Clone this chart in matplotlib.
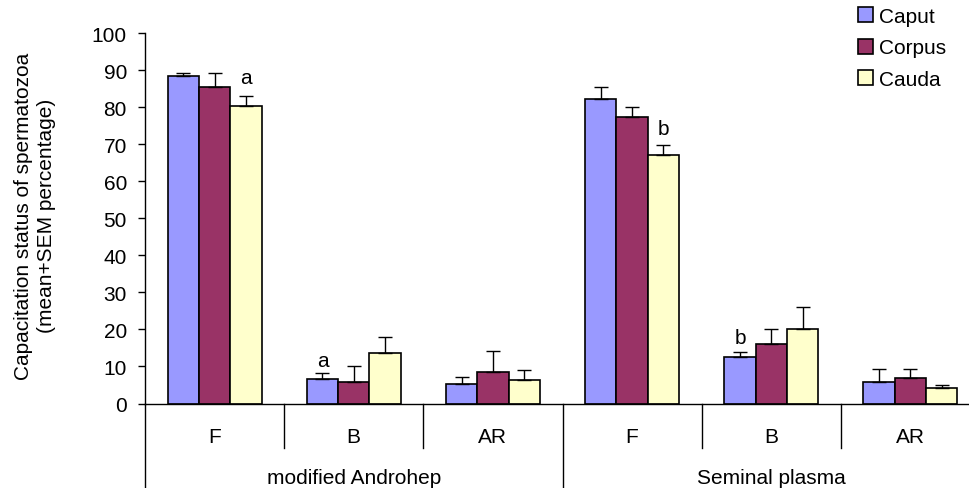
import numpy as np
import matplotlib
matplotlib.use("Agg")
import matplotlib.pyplot as plt
import matplotlib.transforms as mtransforms

plt.rcParams['font.family'] = ['Liberation Sans', 'DejaVu Sans']

# categories
stages = ["F", "B", "AR", "F", "B", "AR"]
media = ["modified Androhep", "Seminal plasma"]
series = ["Caput", "Corpus", "Cauda"]

# means (percentage) and SEM
caput = [88.5, 6.6, 5.2, 82.2, 12.5, 5.7]
corpus = [85.5, 5.9, 8.5, 77.2, 16.1, 7.0]
cauda = [80.4, 13.7, 6.4, 67.0, 20.1, 4.1]
caput_sem = [0.7, 1.6, 1.9, 3.3, 1.4, 3.5]
corpus_sem = [3.7, 4.1, 5.6, 2.9, 4.0, 2.2]
cauda_sem = [2.7, 4.3, 2.7, 2.9, 5.9, 0.8]

# significance letters: (category index, series index, label, y)
letters = [(0, 2, "a", 88.0), (1, 0, "a", 11.7), (3, 2, "b", 74.1), (4, 0, "b", 17.7)]

colors = ["#9999FF", "#993366", "#FFFFCC"]
FS = 15

fig = plt.figure(figsize=(9.69, 4.89), dpi=100)
ax = fig.add_axes([145/969, (489-404.5)/489, (980-145)/969, 370.5/489])

x = np.arange(len(stages))
w = 0.225
means = [caput, corpus, cauda]
sems = [caput_sem, corpus_sem, cauda_sem]
for i, (m, s) in enumerate(zip(means, sems)):
    xs = x + (i - 1) * w
    ax.bar(xs, m, w, color=colors[i], edgecolor="black", linewidth=1.2,
           label=series[i], zorder=2)
    ax.errorbar(xs, m, yerr=[np.zeros(len(m)), s], fmt="none", ecolor="black",
                elinewidth=1, capsize=5, capthick=1, zorder=3)

for ci, si, lab, yv in letters:
    ax.text(x[ci] + (si - 1) * w, yv, lab, ha="center", va="center", fontsize=FS)

ax.set_xlim(-0.5, 5.5)
ax.set_ylim(0, 100)
ax.set_yticks(np.arange(0, 101, 10))
ax.tick_params(axis="y", labelsize=FS, length=5, width=1, pad=8)
ax.set_xticks([])
for sp in ["top", "right"]:
    ax.spines[sp].set_visible(False)
ax.spines["left"].set_linewidth(1)
ax.spines["bottom"].set_linewidth(1)

# multi-level category axis
trans = mtransforms.blended_transform_factory(ax.transData, ax.transAxes)
h_px = 370.5
for xv in [0.5, 1.5, 3.5, 4.5]:
    ax.plot([xv, xv], [0, -44/h_px], color="black", lw=1, transform=trans, clip_on=False)
for xv in [-0.5, 2.5]:
    ax.plot([xv, xv], [0, -84.5/h_px], color="black", lw=1, transform=trans, clip_on=False)
for xi, lab in zip(x, stages):
    ax.text(xi, -38.5/h_px, lab, ha="center", va="baseline", fontsize=FS, transform=trans)
for gi, lab in enumerate(media):
    ax.text(gi * 3 + 1, -80/h_px, lab, ha="center", va="baseline", fontsize=FS, transform=trans)

fig.text(35/969, 1 - 216/489,
         "Capacitation status of spermatozoa\n(mean+SEM percentage)",
         rotation=90, ha="center", va="center", fontsize=FS, linespacing=1.3)

fig.legend(loc="upper left", bbox_to_anchor=(858/969, 1 - 8/489), frameon=False,
           fontsize=FS, handlelength=0.7, handleheight=0.7, handletextpad=0.3,
           labelspacing=0.6, borderpad=0, borderaxespad=0)

fig.savefig("out.png", dpi=100)
